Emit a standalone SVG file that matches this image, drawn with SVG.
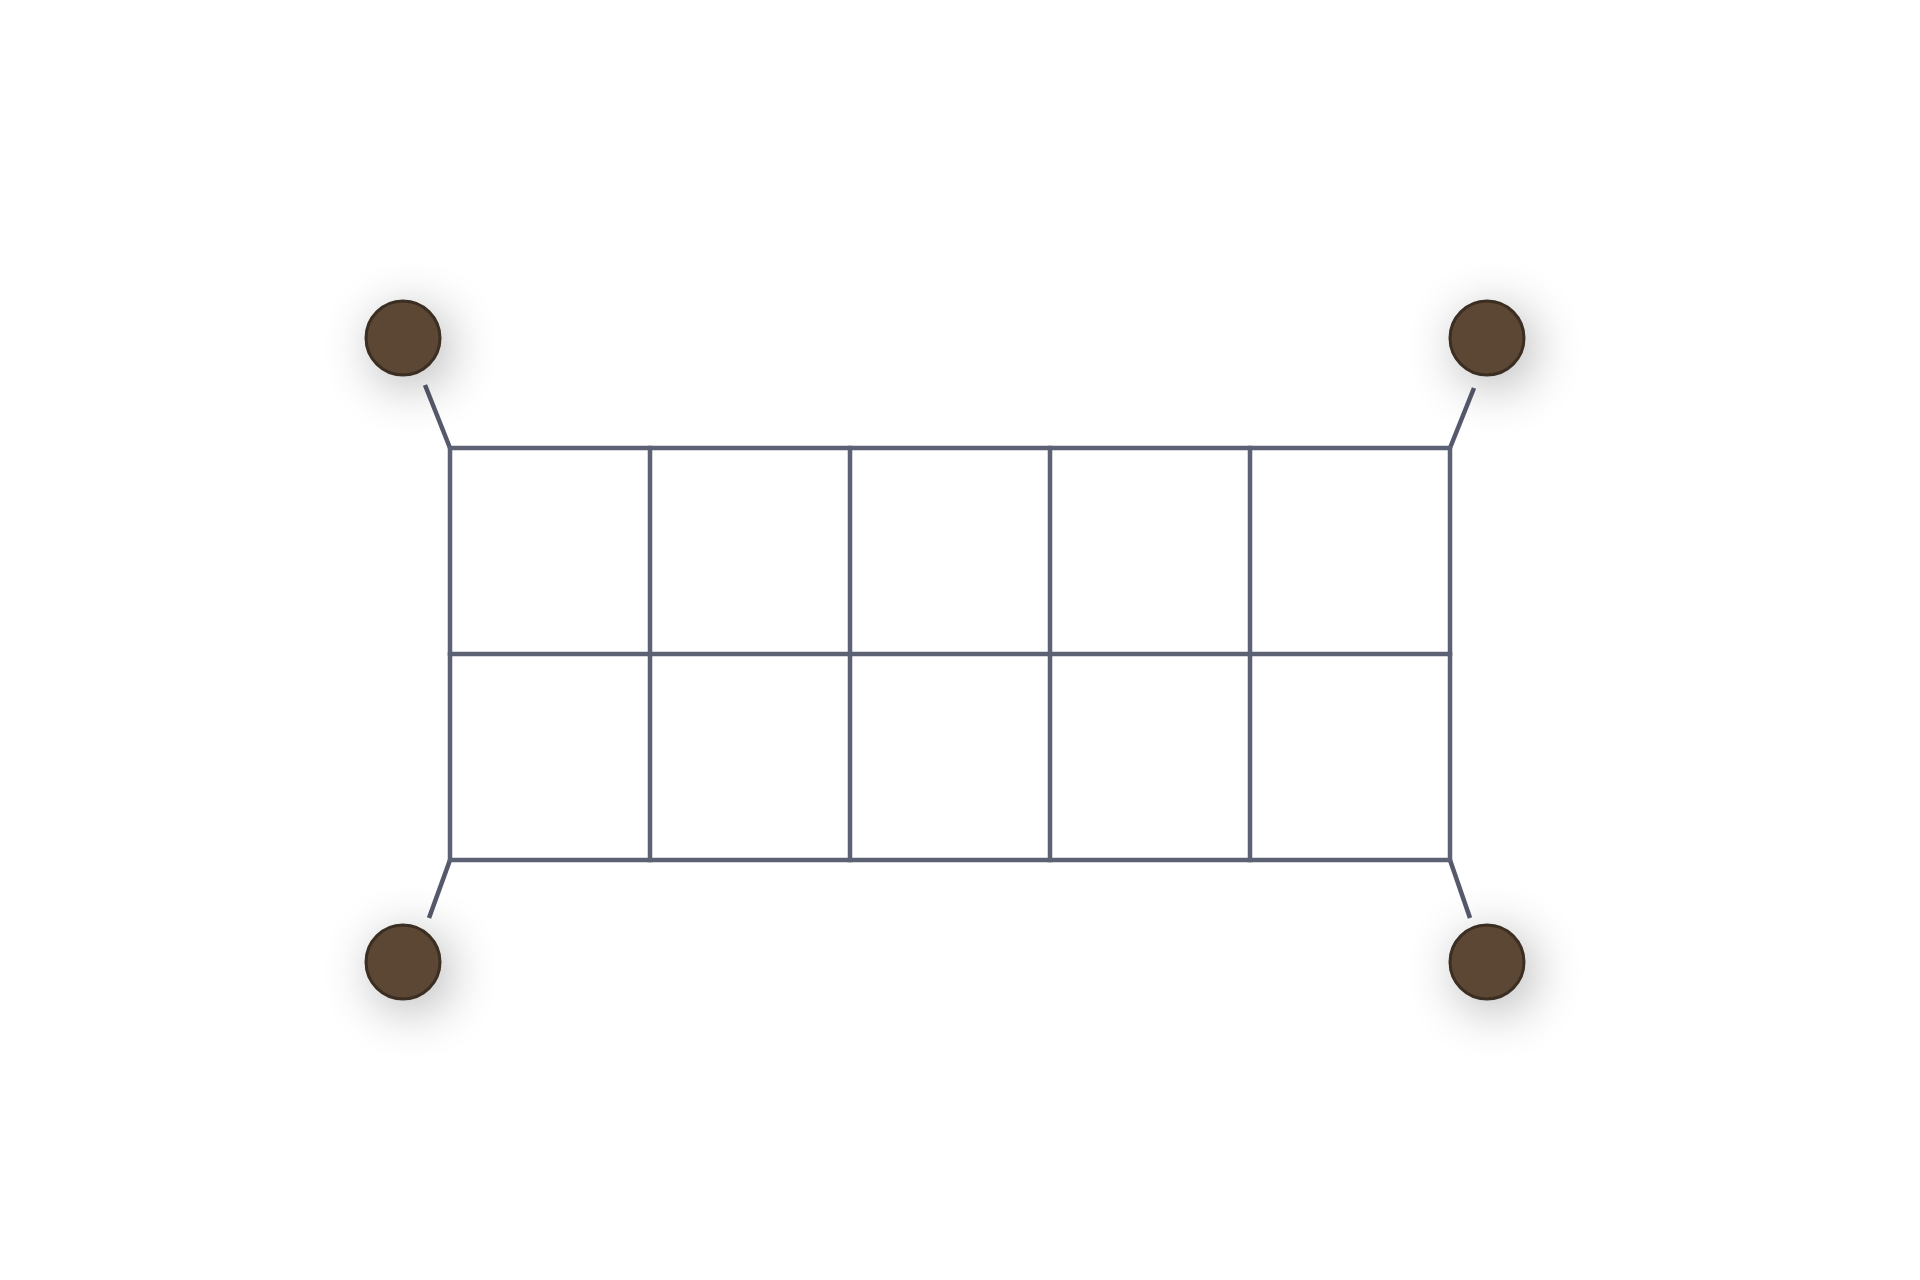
<svg xmlns="http://www.w3.org/2000/svg" width="1920" height="1280" viewBox="0 0 1920 1280">
<defs>
<filter id="glow" x="-200%" y="-200%" width="500%" height="500%">
<feGaussianBlur in="SourceAlpha" stdDeviation="26"/>
<feOffset dx="8" dy="10" result="b"/>
<feComponentTransfer><feFuncA type="linear" slope="0.3"/></feComponentTransfer>
<feMerge><feMergeNode/><feMergeNode in="SourceGraphic"/></feMerge>
</filter>
</defs>
<style>
.grid{fill:none;stroke:#5d6174;stroke-width:4.5;stroke-linecap:square}
.leg{stroke:#55596b;stroke-width:4.5;stroke-linecap:butt}
.post{fill:#5b4635;stroke:#3b2d22;stroke-width:3;filter:url(#glow)}
</style>
<rect width="1920" height="1280" fill="#ffffff"/>
<g id="connectors">
<line class="leg" x1="425" y1="385" x2="450" y2="448"/>
<line class="leg" x1="1474" y1="388" x2="1450" y2="448"/>
<line class="leg" x1="450" y1="860" x2="429" y2="918"/>
<line class="leg" x1="1450" y1="860" x2="1470" y2="918"/>
</g>
<g id="grid">
<rect class="grid" x="450" y="448" width="1000" height="412"/>
<line class="grid" x1="450" y1="654" x2="1450" y2="654"/>
<line class="grid" x1="650" y1="448" x2="650" y2="860"/>
<line class="grid" x1="850" y1="448" x2="850" y2="860"/>
<line class="grid" x1="1050" y1="448" x2="1050" y2="860"/>
<line class="grid" x1="1250" y1="448" x2="1250" y2="860"/>
</g>
<g id="post-tl"><circle class="post" cx="403" cy="338" r="37"/></g>
<g id="post-tr"><circle class="post" cx="1487" cy="338" r="37"/></g>
<g id="post-bl"><circle class="post" cx="403" cy="962" r="37"/></g>
<g id="post-br"><circle class="post" cx="1487" cy="962" r="37"/></g>
</svg>
